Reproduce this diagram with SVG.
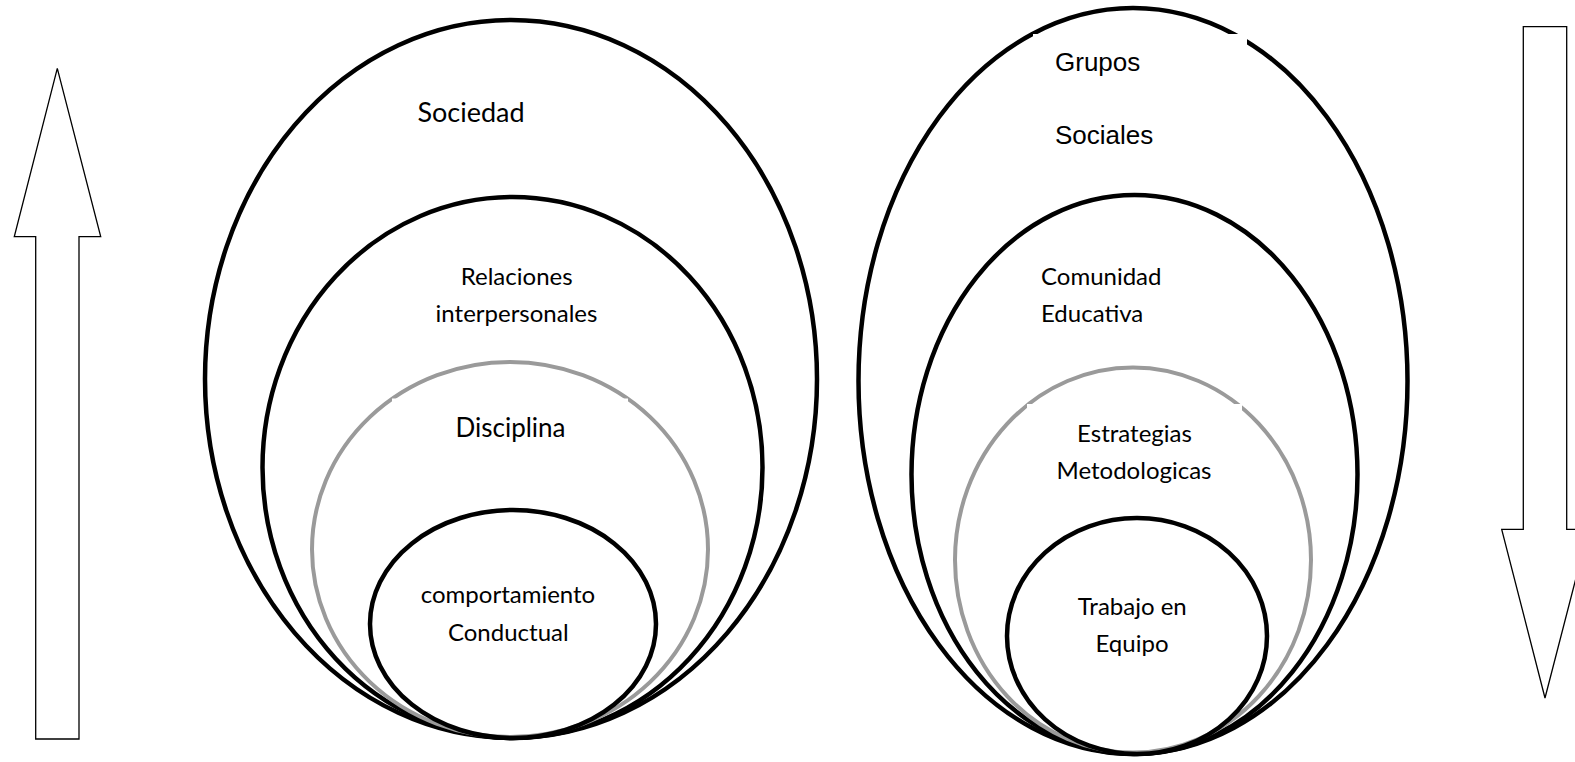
<svg xmlns="http://www.w3.org/2000/svg" width="1575" height="762" viewBox="0 0 1575 762">
<style>
.ring{fill:none;stroke:#000;stroke-width:4.5}
.gray{fill:none;stroke:#9a9a9a;stroke-width:4}
.arrow{fill:#fff;stroke:#000;stroke-width:1.3;stroke-linejoin:miter}
.mask{fill:#fff;stroke:none}
.t{font-family:Lato,"Open Sans","DejaVu Sans",sans-serif;font-size:24px;fill:#000}
.tc{text-anchor:middle}
.a{font-family:"Liberation Sans",Arial,sans-serif;font-size:26px;fill:#000}
</style>
<rect x="0" y="0" width="1575" height="762" fill="#fff"/>
<g id="arrows">
<polygon id="arrow-up" class="arrow" points="57.3,68.3 100.7,236.7 79,236.7 79,739 35.7,739 35.7,236.7 14.3,236.7"/>
<polygon id="arrow-down" class="arrow" points="1523.3,26.7 1566.7,26.7 1566.7,529.3 1588.6,529.3 1545,698 1501.7,529.3 1523.3,529.3"/>
</g>
<g id="sociedad">
<ellipse class="ring" cx="511" cy="379" rx="306" ry="359"/>
<text class="t tc" x="471" y="122" style="font-size:27px">Sociedad</text>
</g>
<g id="relaciones">
<ellipse class="ring" cx="512.5" cy="467.5" rx="250" ry="270.5"/>
<text class="t tc" x="516.7" y="285">Relaciones</text>
<text class="t tc" x="516.5" y="322">interpersonales</text>
</g>
<g id="disciplina">
<ellipse class="gray" cx="510" cy="549.5" rx="198" ry="187.5"/>
<rect class="mask" x="392" y="398.5" width="236" height="80"/>
<text class="t tc" x="510.5" y="437" style="font-size:26px">Disciplina</text>
</g>
<g id="comportamiento">
<ellipse class="ring" cx="513" cy="624" rx="143" ry="114"/>
<text class="t tc" x="508" y="603">comportamiento</text>
<text class="t tc" x="508.3" y="640.7">Conductual</text>
</g>
<g id="grupos-sociales">
<ellipse class="ring" cx="1133" cy="381" rx="274.5" ry="373"/>
<rect class="mask" x="1033" y="34" width="214" height="130"/>
<text class="a" x="1055" y="70.7">Grupos</text>
<text class="a" x="1055" y="144">Sociales</text>
</g>
<g id="comunidad-educativa">
<ellipse class="ring" cx="1134.5" cy="474.5" rx="223" ry="279.5"/>
<text class="t" x="1041" y="285">Comunidad</text>
<text class="t" x="1041" y="321.7">Educativa</text>
</g>
<g id="estrategias">
<ellipse class="gray" cx="1133" cy="560" rx="178" ry="192.5"/>
<rect class="mask" x="1027" y="404" width="215" height="90"/>
<text class="t tc" x="1134.5" y="442">Estrategias</text>
<text class="t tc" x="1134" y="479">Metodologicas</text>
</g>
<g id="trabajo">
<ellipse class="ring" cx="1137" cy="636" rx="130" ry="118"/>
<text class="t tc" x="1132.3" y="615">Trabajo en</text>
<text class="t tc" x="1132" y="651.7">Equipo</text>
</g>
</svg>
